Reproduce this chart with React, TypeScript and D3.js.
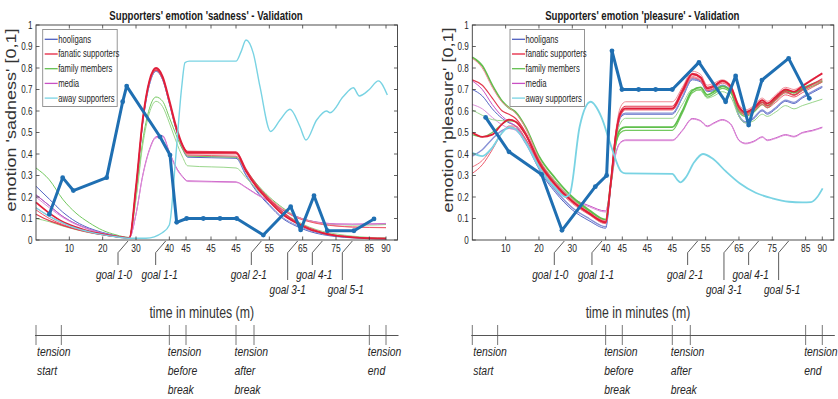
import React from 'react';
import * as d3 from 'd3';

// Supporters' emotions - two validation panels (sadness / pleasure)

// virtual time axis: minutes squeezed so the three "45" ticks sit side by side
const X_MAX = 108.45;
const X_TICKS = [10, 20, 30, 40, 45, 52.5, 60, 70, 80, 90, 100, 105];
const X_TICK_LABELS = ['10', '20', '30', '40', '45', '45', '45', '55', '65', '75', '85', '90'];
const Y_TICKS = [0, 0.1, 0.2, 0.3, 0.4, 0.5, 0.6, 0.7, 0.8, 0.9, 1];
const Y_TICK_LABELS = ['0', '0.1', '0.2', '0.3', '0.4', '0.5', '0.6', '0.7', '0.8', '0.9', '1'];

const GOALS = [27.6, 38.9, 67.6, 78.5, 85.9, 94.9];
const GOAL_LABELS = ['goal 1-0', 'goal 1-1', 'goal 2-1', 'goal 3-1', 'goal 4-1', 'goal 5-1'];
const GOAL_LOW = [false, false, false, true, false, true];
const GOAL_DX = [-4, 4, -2.5, 0, 2, 3.5];

const TENSION_FROM = [0, 40, 60, 100];
const TENSION_TO = [7.6, 45, 65.4, 105];
const TENSION_TEXT = [['tension', 'start'], ['tension', 'before', 'break'], ['tension', 'after', 'break'], ['tension', 'end']];

const LEGEND_NAMES = ['hooligans', 'fanatic supporters', 'family members', 'media', 'away supporters'];
const LEGEND_COLORS = ['#4f5fbf', '#e5223f', '#62bf50', '#c950c4', '#79d3e3'];

// ---- sadness panel ----
const SAD_X = [0, 4, 8, 12, 16, 20, 24, 28, 30, 32, 34, 36, 38, 40, 42, 44, 45.5, 60, 63, 66, 70, 74, 78, 82, 86, 90, 95, 100, 105];
const SAD_RED_A = [0.175, 0.125, 0.085, 0.06, 0.04, 0.027, 0.017, 0.01, 0.25, 0.56, 0.74, 0.80, 0.76, 0.65, 0.53, 0.44, 0.405, 0.405, 0.32, 0.25, 0.18, 0.12, 0.08, 0.05, 0.032, 0.02, 0.012, 0.008, 0.006];
const SAD_RED_B = [0.14, 0.10, 0.072, 0.05, 0.035, 0.024, 0.015, 0.01, 0.24, 0.55, 0.73, 0.795, 0.755, 0.645, 0.52, 0.43, 0.395, 0.39, 0.32, 0.255, 0.19, 0.14, 0.105, 0.085, 0.072, 0.065, 0.06, 0.058, 0.057];
const SAD_RED_C = [0.12, 0.09, 0.068, 0.05, 0.036, 0.025, 0.016, 0.01, 0.24, 0.55, 0.735, 0.79, 0.75, 0.64, 0.52, 0.44, 0.412, 0.41, 0.33, 0.26, 0.19, 0.13, 0.085, 0.055, 0.035, 0.022, 0.014, 0.01, 0.008];
const SAD_RED_D = [0.15, 0.11, 0.078, 0.055, 0.038, 0.026, 0.016, 0.01, 0.245, 0.555, 0.735, 0.795, 0.755, 0.645, 0.525, 0.435, 0.40, 0.40, 0.325, 0.26, 0.195, 0.145, 0.11, 0.088, 0.075, 0.066, 0.061, 0.059, 0.058];
const SAD_BLUE_A = [0.25, 0.19, 0.13, 0.085, 0.055, 0.035, 0.02, 0.01, 0.23, 0.54, 0.72, 0.785, 0.745, 0.635, 0.515, 0.425, 0.385, 0.38, 0.30, 0.23, 0.16, 0.10, 0.065, 0.04, 0.025, 0.016, 0.01, 0.007, 0.005];
const SAD_BLUE_B = [0.21, 0.16, 0.11, 0.075, 0.05, 0.032, 0.019, 0.01, 0.23, 0.54, 0.72, 0.785, 0.745, 0.635, 0.515, 0.425, 0.39, 0.385, 0.305, 0.235, 0.165, 0.105, 0.07, 0.045, 0.028, 0.018, 0.012, 0.008, 0.006];
const SAD_GREEN_A = [0.335, 0.28, 0.19, 0.125, 0.08, 0.045, 0.024, 0.012, 0.2, 0.46, 0.61, 0.665, 0.645, 0.57, 0.49, 0.42, 0.39, 0.385, 0.325, 0.265, 0.20, 0.15, 0.11, 0.09, 0.078, 0.072, 0.07, 0.07, 0.072];
const SAD_GREEN_B = [0.10, 0.085, 0.065, 0.048, 0.034, 0.024, 0.015, 0.01, 0.19, 0.44, 0.59, 0.645, 0.62, 0.545, 0.46, 0.385, 0.345, 0.335, 0.29, 0.24, 0.18, 0.13, 0.09, 0.06, 0.04, 0.028, 0.018, 0.012, 0.01];
const SAD_MAGENTA_A = [0.21, 0.16, 0.11, 0.075, 0.05, 0.03, 0.018, 0.01, 0.12, 0.30, 0.42, 0.48, 0.485, 0.41, 0.34, 0.295, 0.275, 0.27, 0.245, 0.215, 0.18, 0.14, 0.11, 0.09, 0.08, 0.075, 0.074, 0.075, 0.077];
const SAD_MAGENTA_B = [0.20, 0.15, 0.105, 0.072, 0.048, 0.03, 0.018, 0.01, 0.12, 0.295, 0.415, 0.475, 0.48, 0.405, 0.335, 0.292, 0.272, 0.268, 0.243, 0.213, 0.178, 0.138, 0.108, 0.088, 0.078, 0.073, 0.072, 0.073, 0.075];
const SAD_CYAN_X = [0, 4, 8, 12, 16, 20, 24, 28, 33, 38, 40, 42, 43.7, 44.7, 46, 60, 61.5, 63, 65.2, 67.2, 70.4, 73.2, 76.2, 79.2, 81, 84.2, 87.2, 88.2, 92.2, 95.2, 97, 100, 102.7, 105.4];
const SAD_CYAN_Y = [0.15, 0.11, 0.08, 0.055, 0.038, 0.025, 0.015, 0.008, 0.008, 0.035, 0.07, 0.40, 0.71, 0.825, 0.832, 0.832, 0.875, 0.93, 0.868, 0.713, 0.505, 0.558, 0.608, 0.527, 0.465, 0.558, 0.60, 0.592, 0.667, 0.708, 0.67, 0.70, 0.74, 0.674];
const SAD_VAL_X = [4, 8, 11.2, 21.2, 26, 27.2, 37.2, 40.2, 42.2, 45.2, 50.2, 55.2, 60.2, 68.2, 76.4, 79.4, 83.4, 87.4, 95.4, 101.4];
const SAD_VAL_Y = [0.12, 0.29, 0.23, 0.29, 0.643, 0.716, 0.48, 0.395, 0.082, 0.10, 0.10, 0.10, 0.10, 0.023, 0.155, 0.047, 0.206, 0.043, 0.043, 0.098];

// ---- pleasure panel ----
const PLE_X = [0, 3, 6, 9, 11, 13, 16, 20, 25, 30, 35, 40, 41.5, 43, 44.5, 46, 60, 63, 66, 68.5, 70.5, 72.5, 75, 77.5, 80, 82, 84.5, 87, 88.5, 91, 94, 96.5, 99, 102, 105];
const PLE_RED_A = [0.50, 0.48, 0.49, 0.54, 0.56, 0.55, 0.49, 0.36, 0.255, 0.18, 0.125, 0.082, 0.26, 0.48, 0.59, 0.612, 0.612, 0.69, 0.77, 0.755, 0.705, 0.715, 0.74, 0.715, 0.62, 0.595, 0.615, 0.65, 0.635, 0.665, 0.70, 0.69, 0.715, 0.745, 0.775];
const PLE_RED_B = [0.845, 0.80, 0.71, 0.64, 0.615, 0.59, 0.52, 0.38, 0.27, 0.19, 0.13, 0.09, 0.27, 0.50, 0.62, 0.643, 0.643, 0.71, 0.785, 0.77, 0.72, 0.73, 0.745, 0.72, 0.63, 0.605, 0.625, 0.66, 0.645, 0.675, 0.71, 0.70, 0.72, 0.75, 0.775];
const PLE_RED_C = [0.31, 0.35, 0.42, 0.50, 0.53, 0.53, 0.47, 0.35, 0.25, 0.175, 0.12, 0.078, 0.25, 0.47, 0.58, 0.605, 0.605, 0.68, 0.755, 0.74, 0.695, 0.705, 0.73, 0.705, 0.605, 0.58, 0.60, 0.63, 0.615, 0.64, 0.675, 0.665, 0.685, 0.71, 0.735];
const PLE_RED_D = [0.745, 0.72, 0.66, 0.60, 0.585, 0.565, 0.50, 0.37, 0.26, 0.18, 0.125, 0.085, 0.26, 0.49, 0.60, 0.622, 0.622, 0.70, 0.775, 0.76, 0.71, 0.72, 0.74, 0.71, 0.615, 0.59, 0.61, 0.64, 0.625, 0.655, 0.69, 0.675, 0.70, 0.725, 0.75];
const PLE_RED_E = [0.34, 0.37, 0.43, 0.50, 0.525, 0.52, 0.46, 0.345, 0.245, 0.17, 0.118, 0.076, 0.25, 0.47, 0.58, 0.608, 0.608, 0.685, 0.76, 0.745, 0.70, 0.71, 0.735, 0.708, 0.61, 0.585, 0.605, 0.638, 0.622, 0.65, 0.685, 0.672, 0.695, 0.72, 0.742];
const PLE_BLUE_A = [0.70, 0.67, 0.61, 0.565, 0.545, 0.53, 0.46, 0.33, 0.22, 0.14, 0.09, 0.055, 0.24, 0.46, 0.57, 0.585, 0.585, 0.66, 0.745, 0.735, 0.69, 0.695, 0.715, 0.69, 0.575, 0.545, 0.565, 0.60, 0.585, 0.61, 0.645, 0.635, 0.66, 0.685, 0.71];
const PLE_BLUE_B = [0.39, 0.42, 0.47, 0.51, 0.52, 0.515, 0.45, 0.335, 0.23, 0.15, 0.10, 0.062, 0.25, 0.47, 0.575, 0.59, 0.59, 0.665, 0.75, 0.74, 0.695, 0.70, 0.72, 0.695, 0.58, 0.55, 0.57, 0.605, 0.59, 0.615, 0.65, 0.64, 0.665, 0.69, 0.715];
const PLE_GREEN_A = [0.605, 0.58, 0.56, 0.555, 0.555, 0.55, 0.49, 0.37, 0.27, 0.19, 0.135, 0.092, 0.26, 0.46, 0.545, 0.566, 0.566, 0.63, 0.70, 0.695, 0.66, 0.67, 0.69, 0.665, 0.575, 0.545, 0.555, 0.585, 0.575, 0.595, 0.625, 0.61, 0.625, 0.64, 0.655];
const PLE_GREEN_B = [0.85, 0.81, 0.72, 0.645, 0.615, 0.595, 0.525, 0.39, 0.285, 0.20, 0.14, 0.095, 0.26, 0.45, 0.515, 0.525, 0.525, 0.60, 0.695, 0.71, 0.675, 0.69, 0.715, 0.695, 0.605, 0.585, 0.605, 0.64, 0.625, 0.66, 0.695, 0.685, 0.705, 0.725, 0.74];
const PLE_GREEN_C = [0.49, 0.48, 0.50, 0.54, 0.555, 0.55, 0.49, 0.37, 0.27, 0.19, 0.135, 0.092, 0.25, 0.44, 0.50, 0.51, 0.51, 0.59, 0.685, 0.70, 0.665, 0.68, 0.705, 0.685, 0.595, 0.575, 0.595, 0.63, 0.615, 0.65, 0.685, 0.675, 0.695, 0.715, 0.735];
const PLE_MAGENTA_A = [0.74, 0.70, 0.63, 0.575, 0.55, 0.53, 0.47, 0.36, 0.265, 0.195, 0.16, 0.135, 0.25, 0.40, 0.455, 0.465, 0.465, 0.51, 0.565, 0.555, 0.53, 0.545, 0.56, 0.54, 0.465, 0.45, 0.46, 0.48, 0.465, 0.475, 0.49, 0.482, 0.50, 0.51, 0.525];
const PLE_MAGENTA_B = [0.63, 0.61, 0.57, 0.535, 0.52, 0.51, 0.455, 0.35, 0.26, 0.19, 0.155, 0.13, 0.245, 0.395, 0.452, 0.462, 0.462, 0.507, 0.562, 0.552, 0.527, 0.542, 0.557, 0.537, 0.462, 0.447, 0.457, 0.477, 0.462, 0.472, 0.487, 0.479, 0.497, 0.507, 0.522];
const PLE_CYAN_X = [0, 3, 6, 9, 11, 13, 16, 20, 25, 28, 29.3, 32.2, 35.5, 38.7, 41.7, 44.7, 46, 60, 61.5, 62.4, 64, 66.5, 69.2, 72, 76, 80.2, 85, 90, 95, 99, 101.6, 103.5, 105.1];
const PLE_CYAN_Y = [0.405, 0.39, 0.43, 0.50, 0.525, 0.515, 0.455, 0.34, 0.24, 0.20, 0.217, 0.527, 0.643, 0.573, 0.434, 0.318, 0.31, 0.308, 0.28, 0.268, 0.29, 0.36, 0.40, 0.38, 0.32, 0.264, 0.22, 0.194, 0.178, 0.175, 0.176, 0.20, 0.24];
const PLE_VAL_X = [4, 11, 20.8, 26.9, 36.9, 40.3, 41.9, 44.9, 49.9, 55, 60, 68, 76, 79, 82.9, 86.9, 94.9, 101.1];
const PLE_VAL_Y = [0.57, 0.41, 0.305, 0.045, 0.248, 0.30, 0.88, 0.70, 0.70, 0.70, 0.70, 0.826, 0.643, 0.763, 0.535, 0.744, 0.845, 0.659];

const FONT = "'Liberation Sans', Arial, sans-serif";
const SX = 0.77; // picture is squeezed horizontally
const AXIS = '#3a3a3a';
const VAL_BLUE = '#1f6fb2';

interface Series { xs: number[]; ys: number[]; color: string; w: number }

const zip = (xs: number[], ys: number[]) => xs.map((v, i) => [v, ys[i]] as [number, number]);

const SAD_LINES: Series[] = [
  { xs: SAD_X, ys: SAD_BLUE_A, color: '#5566c4', w: 1 },
  { xs: SAD_X, ys: SAD_BLUE_B, color: '#8892d6', w: 1 },
  { xs: SAD_X, ys: SAD_GREEN_A, color: '#74c960', w: 1 },
  { xs: SAD_X, ys: SAD_GREEN_B, color: '#9ad68c', w: 1 },
  { xs: SAD_X, ys: SAD_MAGENTA_A, color: '#c850c4', w: 1 },
  { xs: SAD_X, ys: SAD_MAGENTA_B, color: '#dc8ed8', w: 1 },
  { xs: SAD_X, ys: SAD_RED_D, color: '#f18a95', w: 1 },
  { xs: SAD_X, ys: SAD_RED_B, color: '#ee5a6c', w: 1 },
  { xs: SAD_X, ys: SAD_RED_C, color: '#e33a50', w: 1.2 },
  { xs: SAD_X, ys: SAD_RED_A, color: '#e01e3a', w: 1.8 },
  { xs: SAD_CYAN_X, ys: SAD_CYAN_Y, color: '#79d3e3', w: 1.4 },
];

const PLE_LINES: Series[] = [
  { xs: PLE_X, ys: PLE_BLUE_A, color: '#5566c4', w: 1 },
  { xs: PLE_X, ys: PLE_BLUE_B, color: '#8892d6', w: 1.4 },
  { xs: PLE_X, ys: PLE_MAGENTA_A, color: '#c850c4', w: 1 },
  { xs: PLE_X, ys: PLE_MAGENTA_B, color: '#dc8ed8', w: 1 },
  { xs: PLE_X, ys: PLE_GREEN_A, color: '#9ad68c', w: 1 },
  { xs: PLE_X, ys: PLE_GREEN_C, color: '#74c960', w: 1.2 },
  { xs: PLE_X, ys: PLE_GREEN_B, color: '#5fbf4c', w: 1.8 },
  { xs: PLE_X, ys: PLE_RED_B, color: '#f18a95', w: 1 },
  { xs: PLE_X, ys: PLE_RED_C, color: '#ee5a6c', w: 1 },
  { xs: PLE_X, ys: PLE_RED_E, color: '#f0707f', w: 1 },
  { xs: PLE_X, ys: PLE_RED_D, color: '#e33a50', w: 1.2 },
  { xs: PLE_X, ys: PLE_RED_A, color: '#e01e3a', w: 1.8 },
  { xs: PLE_CYAN_X, ys: PLE_CYAN_Y, color: '#79d3e3', w: 1.8 },
];

function T(props: {
  x: number; y: number; size: number; anchor?: string; weight?: string; italic?: boolean;
  rotate?: number; fill?: string; dy?: string; children: React.ReactNode;
}) {
  const { x, y, size, anchor = 'start', weight = 'normal', italic = false, rotate, fill = '#262626', dy } = props;
  return (
    <text
      transform={`translate(${x},${y}) scale(${SX},1)${rotate ? ` rotate(${rotate})` : ''}`}
      fontSize={size}
      fontFamily={FONT}
      fontWeight={weight}
      fontStyle={italic ? 'italic' : 'normal'}
      textAnchor={anchor}
      fill={fill}
      dy={dy}
    >
      {props.children}
    </text>
  );
}

interface PanelProps {
  x0: number;
  title: string;
  yLabel: string;
  yLabelX: number;
  lines: Series[];
  valX: number[];
  valY: number[];
  legendX: number;
}

function Panel({ x0, title, yLabel, yLabelX, lines, valX, valY, legendX }: PanelProps) {
  const W = 361.5;
  const top = 25;
  const bottom = 240;
  const x = d3.scaleLinear().domain([0, X_MAX]).range([x0, x0 + W]);
  const y = d3.scaleLinear().domain([0, 1]).range([bottom, top]);
  const smooth = d3.line<[number, number]>().x(d => x(d[0])).y(d => y(d[1])).curve(d3.curveMonotoneX);
  const straight = d3.line<[number, number]>().x(d => x(d[0])).y(d => y(d[1]));
  const tick = 3.5;
  const val = zip(valX, valY);

  return (
    <g>
      <T x={x0 + 170} y={19.5} size={12.5} anchor="middle" weight="bold" fill="#1a1a1a">{title}</T>

      {/* data */}
      {lines.map((s, i) => (
        <path key={i} d={smooth(zip(s.xs, s.ys)) || ''} fill="none" stroke={s.color} strokeWidth={s.w} />
      ))}
      <path d={straight(val) || ''} fill="none" stroke={VAL_BLUE} strokeWidth={3} strokeLinejoin="round" />
      {val.map((d, i) => (
        <circle key={i} cx={x(d[0])} cy={y(d[1])} r={2.4} fill={VAL_BLUE} />
      ))}

      {/* box + ticks */}
      <rect x={x0} y={top} width={W} height={bottom - top} fill="none" stroke={AXIS} strokeWidth={0.9} />
      {X_TICKS.map((t, i) => (
        <g key={i}>
          <line x1={x(t)} x2={x(t)} y1={bottom} y2={bottom - tick} stroke={AXIS} strokeWidth={0.8} />
          <line x1={x(t)} x2={x(t)} y1={top} y2={top + tick} stroke={AXIS} strokeWidth={0.8} />
          <T x={x(t)} y={251.5} size={11} anchor="middle">{X_TICK_LABELS[i]}</T>
        </g>
      ))}
      {Y_TICKS.map((t, i) => (
        <g key={i}>
          <line x1={x0} x2={x0 + tick} y1={y(t)} y2={y(t)} stroke={AXIS} strokeWidth={0.8} />
          <line x1={x0 + W} x2={x0 + W - tick} y1={y(t)} y2={y(t)} stroke={AXIS} strokeWidth={0.8} />
          <T x={x0 - 3.5} y={y(t)} dy="0.36em" size={10.5} anchor="end">{Y_TICK_LABELS[i]}</T>
        </g>
      ))}
      <T x={yLabelX} y={120} size={18} anchor="middle" rotate={-90} fill="#333">{yLabel}</T>

      {/* legend */}
      <rect x={legendX} y={29.5} width={74.5} height={77} fill="#fff" stroke="#8a8a8a" strokeWidth={0.9} />
      {LEGEND_NAMES.map((n, i) => {
        const ly = 39.3 + i * 14.7;
        return (
          <g key={n}>
            <line x1={legendX + 2} x2={legendX + 15} y1={ly} y2={ly} stroke={LEGEND_COLORS[i]} strokeWidth={1.3} />
            <T x={legendX + 15.5} y={ly + 3.4} size={10}>{n}</T>
          </g>
        );
      })}

      {/* goals */}
      {GOALS.map((g, i) => {
        const gx = x(g);
        const end = GOAL_LOW[i] ? 280 : 265;
        return (
          <g key={i}>
            <path d={`M${gx},241 L${gx - 10},252.7 L${gx - 10},${end}`} fill="none" stroke="#333" strokeWidth={0.8} />
            <T x={gx - 10 + GOAL_DX[i]} y={GOAL_LOW[i] ? 293.5 : 279} size={13} anchor="middle" italic>{GOAL_LABELS[i]}</T>
          </g>
        );
      })}
      <T x={x0 + 165.7} y={318} size={16} anchor="middle" fill="#333">time in minutes (m)</T>

      {/* tension timeline */}
      <line x1={x(0) - 1} x2={x0 + W + 1} y1={335.5} y2={335.5} stroke="#555" strokeWidth={1} />
      {TENSION_FROM.map((f, i) => (
        <g key={i}>
          <line x1={x(f)} x2={x(f)} y1={325} y2={345} stroke="#555" strokeWidth={0.8} />
          <line x1={x(TENSION_TO[i])} x2={x(TENSION_TO[i])} y1={325} y2={345} stroke="#555" strokeWidth={0.8} />
          {TENSION_TEXT[i].map((w, j) => (
            <T key={j} x={x(f) + (i === 0 ? 1 : -1.5)} y={356 + j * 19} size={13.5} italic>{w}</T>
          ))}
        </g>
      ))}
    </g>
  );
}

export default function App() {
  return (
    <div style={{ position: 'absolute', left: 0, top: 0, width: 838, height: 399, background: '#fff' }}>
      <svg width={838} height={399} viewBox="0 0 838 399">
        <rect width={838} height={399} fill="#fff" />
        <Panel
          x0={36}
          title="Supporters' emotion 'sadness' - Validation"
          yLabel="emotion 'sadness' [0,1]"
          yLabelX={15.5}
          lines={SAD_LINES}
          valX={SAD_VAL_X}
          valY={SAD_VAL_Y}
          legendX={42.7}
        />
        <Panel
          x0={472.3}
          title="Supporters' emotion 'pleasure' - Validation"
          yLabel="emotion 'pleasure' [0,1]"
          yLabelX={452.5}
          lines={PLE_LINES}
          valX={PLE_VAL_X}
          valY={PLE_VAL_Y}
          legendX={510}
        />
      </svg>
    </div>
  );
}
